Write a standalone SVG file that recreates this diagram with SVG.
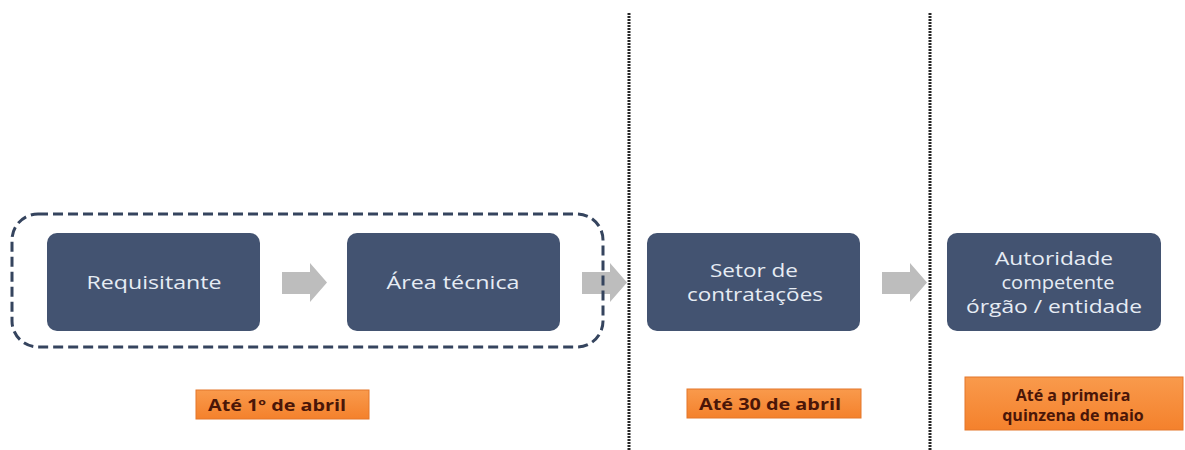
<svg xmlns="http://www.w3.org/2000/svg" width="1185" height="450" viewBox="0 0 1185 450">
  <defs>
    <linearGradient id="og" x1="0" y1="0" x2="0" y2="1">
      <stop offset="0" stop-color="#f99a4c"/>
      <stop offset="1" stop-color="#f4812c"/>
    </linearGradient>
  </defs>
  <style>
    .box { fill: #435371; }
    .btxt { font-family: "Open Sans", "Liberation Sans", sans-serif; font-size: 19px; fill: #e6ecf4; text-anchor: middle; }
    .obox { fill: url(#og); stroke: #e4772a; stroke-width: 1; }
    .otxt { font-family: "Open Sans", "Liberation Sans", sans-serif; font-size: 16px; font-weight: bold; fill: #4a1608; text-anchor: middle; }
    .arrow { fill: #bdbdbd; }
    .sep { stroke: #262626; stroke-width: 3; stroke-dasharray: 2 1; fill: none; }
    .grp { fill: none; stroke: #35445e; stroke-width: 3; stroke-dasharray: 10 5; }
  </style>
  <rect width="1185" height="450" fill="#ffffff"/>

  <g id="separators">
    <line class="sep" x1="629" y1="13" x2="629" y2="450"/>
    <line class="sep" x1="930" y1="13" x2="930" y2="450"/>
  </g>

  <g id="connectors">
    <path class="arrow" d="M282,272 H310 V263 L327,282.5 L310,302 V294 H282 Z"/>
    <path class="arrow" d="M582,272 H610 V263 L627,282.5 L610,302 V294 H582 Z"/>
    <path class="arrow" d="M882,272 H910 V263 L927,282.5 L910,302 V294 H882 Z"/>
  </g>

  <g id="node-requisitante">
    <rect class="box" x="47" y="233" width="213" height="98" rx="10"/>
    <text class="btxt" x="154" y="289" textLength="135" lengthAdjust="spacingAndGlyphs">Requisitante</text>
  </g>

  <g id="node-area-tecnica">
    <rect class="box" x="347" y="233" width="213" height="98" rx="10"/>
    <text class="btxt" x="453" y="289" textLength="133" lengthAdjust="spacingAndGlyphs">Área técnica</text>
  </g>

  <g id="group-box">
    <rect class="grp" x="12" y="214" width="591" height="133" rx="26"/>
  </g>

  <g id="node-setor">
    <rect class="box" x="647" y="233" width="213" height="98" rx="10"/>
    <text class="btxt" x="754" y="277" textLength="88" lengthAdjust="spacingAndGlyphs">Setor de</text>
    <text class="btxt" x="755" y="301" textLength="136" lengthAdjust="spacingAndGlyphs">contratações</text>
  </g>

  <g id="node-autoridade">
    <rect class="box" x="947" y="233" width="214" height="98" rx="10"/>
    <text class="btxt" x="1054" y="265" textLength="118" lengthAdjust="spacingAndGlyphs">Autoridade</text>
    <text class="btxt" x="1058" y="289" textLength="113" lengthAdjust="spacingAndGlyphs">competente</text>
    <text class="btxt" x="1054" y="313" textLength="176" lengthAdjust="spacingAndGlyphs">órgão / entidade</text>
  </g>

  <g id="label-1">
    <rect class="obox" x="196" y="390" width="173" height="29"/>
    <text class="otxt" x="277" y="410.5" textLength="138" lengthAdjust="spacingAndGlyphs">Até 1º de abril</text>
  </g>

  <g id="label-2">
    <rect class="obox" x="687" y="389" width="174" height="29"/>
    <text class="otxt" x="770" y="409.5" textLength="142" lengthAdjust="spacingAndGlyphs">Até 30 de abril</text>
  </g>

  <g id="label-3">
    <rect class="obox" x="965" y="377" width="218" height="53"/>
    <text class="otxt" x="1073" y="401">Até a primeira</text>
    <text class="otxt" x="1073" y="421">quinzena de maio</text>
  </g>
</svg>
